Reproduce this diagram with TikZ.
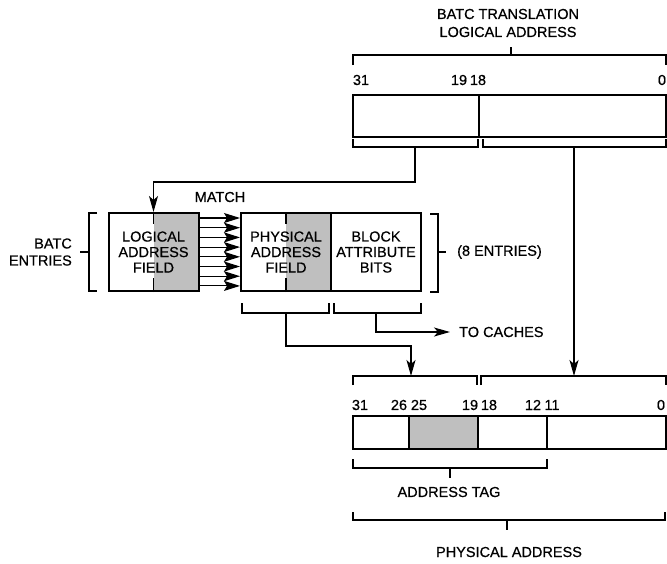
\documentclass[tikz,border=0pt]{standalone}
\usepackage{fontspec}
\setmainfont{Liberation Sans}[FakeBold=0.6]
\usetikzlibrary{arrows.meta,positioning,backgrounds,calc}

\begin{document}
\begin{tikzpicture}[x=1pt, y=-1pt,
    lbl/.style={font=\fontsize{14.5}{17}\selectfont, inner sep=0pt},
    field/.style={draw, line width=2pt, minimum width=90pt, minimum height=78pt, inner sep=0pt, align=center, font=\fontsize{14.5}{15.5}\selectfont},
    cell/.style={draw, line width=1.5pt, inner sep=0pt},
    brk/.style={line width=1.1pt},
    arrow/.style={-{Stealth[length=16pt,width=9pt,inset=4pt]}, line width=1.1pt},
    matcharrow/.style={-{Stealth[length=16pt,width=10pt,inset=3pt]}, line width=1.1pt},
    dotfill/.style={fill=black!25}
]
    \useasboundingbox (0,0) rectangle (667,563);

    % Logical address
    \node[lbl, align=center, font=\fontsize{14.5}{18}\selectfont] (title) at (508,23) {BATC TRANSLATION\\LOGICAL ADDRESS};
    \draw[brk] (353,65) -- (353,55) -- (666,55) -- (666,65);
    \draw[brk] (511,55) -- (511,47);
    \node[lbl] (la31) at (361,80) {31};
    \node[lbl] (la19) at (459,80) {19};
    \node[lbl] (la18) at (478,80) {18};
    \node[lbl] (la0) at (662,80) {0};
    \node[cell, minimum width=126pt, minimum height=42pt] (lahi) at (416,116) {};
    \node[cell, minimum width=187pt, minimum height=42pt] (lalo) at (572.5,116) {};
    \draw[brk] (353,139) -- (353,147) -- (478,147) -- (478,139);
    \draw[brk] (483,139) -- (483,147) -- (666,147) -- (666,139);
    \coordinate (lahistem) at (415,147);
    \coordinate (lalostem) at (574,147);

    % BATC entries
    \node[field] (logfield) at (153.5,252) {LOGICAL\\ADDRESS\\FIELD};
    \node[field] (physfield) at (286,252) {PHYSICAL\\ADDRESS\\FIELD};
    \node[field] (attrbits) at (376,252) {BLOCK\\ATTRIBUTE\\BITS};
    \begin{scope}[on background layer]
        \fill[dotfill] (logfield.north) rectangle (logfield.south east);
        \fill[dotfill] (physfield.north) rectangle (physfield.south east);
    \end{scope}
    \draw[line width=1.5pt] (logfield.north) -- ++(0,12);
    \draw[line width=1.5pt] (logfield.south) -- ++(0,-14);
    \draw[line width=1.5pt] (physfield.north) -- ++(0,12);
    \draw[line width=1.5pt] (physfield.south) -- ++(0,-14);
    \node[lbl] (match) at (220,197) {MATCH};
    \foreach \i in {0,...,7}
        \draw[matcharrow] ([yshift={-(6+9.7*\i)}]logfield.north east) -- ([yshift={-(6+9.7*\i)}]physfield.north west);

    \draw[brk] (97,213) -- (89,213) -- (89,291) -- (97,291);
    \draw[brk] (89,252) -- (80,252);
    \node[lbl, align=right, anchor=east] (entries) at (72,252) {BATC\\ENTRIES};
    \draw[brk] (430,214) -- (438,214) -- (438,292) -- (430,292);
    \draw[brk] (438,252) -- (446,252);
    \node[lbl, anchor=west] (eight) at (457,252) {(8 ENTRIES)};

    \draw[brk] (242,303) -- (242,313) -- (329,313) -- (329,303);
    \draw[brk] (334,303) -- (334,313) -- (421,313) -- (421,303);
    \coordinate (physstem) at (286,313);
    \coordinate (attrstem) at (376,313);
    \node[lbl, anchor=west] (tocaches) at (459,332) {TO CACHES};

    % Physical address
    \draw[brk] (353,385) -- (353,376) -- (477,376) -- (477,385);
    \draw[brk] (481,385) -- (481,376) -- (666,376) -- (666,385);
    \coordinate (pahitop) at (411,376);
    \coordinate (palotop) at (574,376);
    \node[lbl] (pa31) at (360,405) {31};
    \node[lbl] (pa26) at (399,405) {26};
    \node[lbl] (pa25) at (419,405) {25};
    \node[lbl] (pa19) at (470,405) {19};
    \node[lbl] (pa18) at (489,405) {18};
    \node[lbl] (pa12) at (533,405) {12};
    \node[lbl] (pa11) at (552,405) {11};
    \node[lbl] (pa0) at (661,405) {0};
    \node[cell, minimum width=56pt, minimum height=33pt] (pa1) at (381,432.5) {};
    \node[cell, dotfill, minimum width=69pt, minimum height=33pt] (pa2) at (443.5,432.5) {};
    \node[cell, minimum width=69pt, minimum height=33pt] (pa3) at (512.5,432.5) {};
    \node[cell, minimum width=119pt, minimum height=33pt] (pa4) at (606.5,432.5) {};
    \draw[brk] (353,459) -- (353,468) -- (547,468) -- (547,459);
    \draw[brk] (450,468) -- (450,478);
    \node[lbl] (tag) at (449,492) {ADDRESS TAG};
    \draw[brk] (353,512) -- (353,520) -- (665,520) -- (665,512);
    \draw[brk] (507,520) -- (507,530);
    \node[lbl] (phys) at (509,552) {PHYSICAL ADDRESS};

    % Arrows
    \draw[arrow] (lahistem) -- ++(0,35) -| (logfield.north);
    \draw[arrow] (lalostem) -- (palotop);
    \draw[arrow] (physstem) -- ++(0,33) -| (pahitop);
    \draw[arrow] (attrstem) |- ([xshift=-9pt]tocaches.west);
\end{tikzpicture}
\end{document}
